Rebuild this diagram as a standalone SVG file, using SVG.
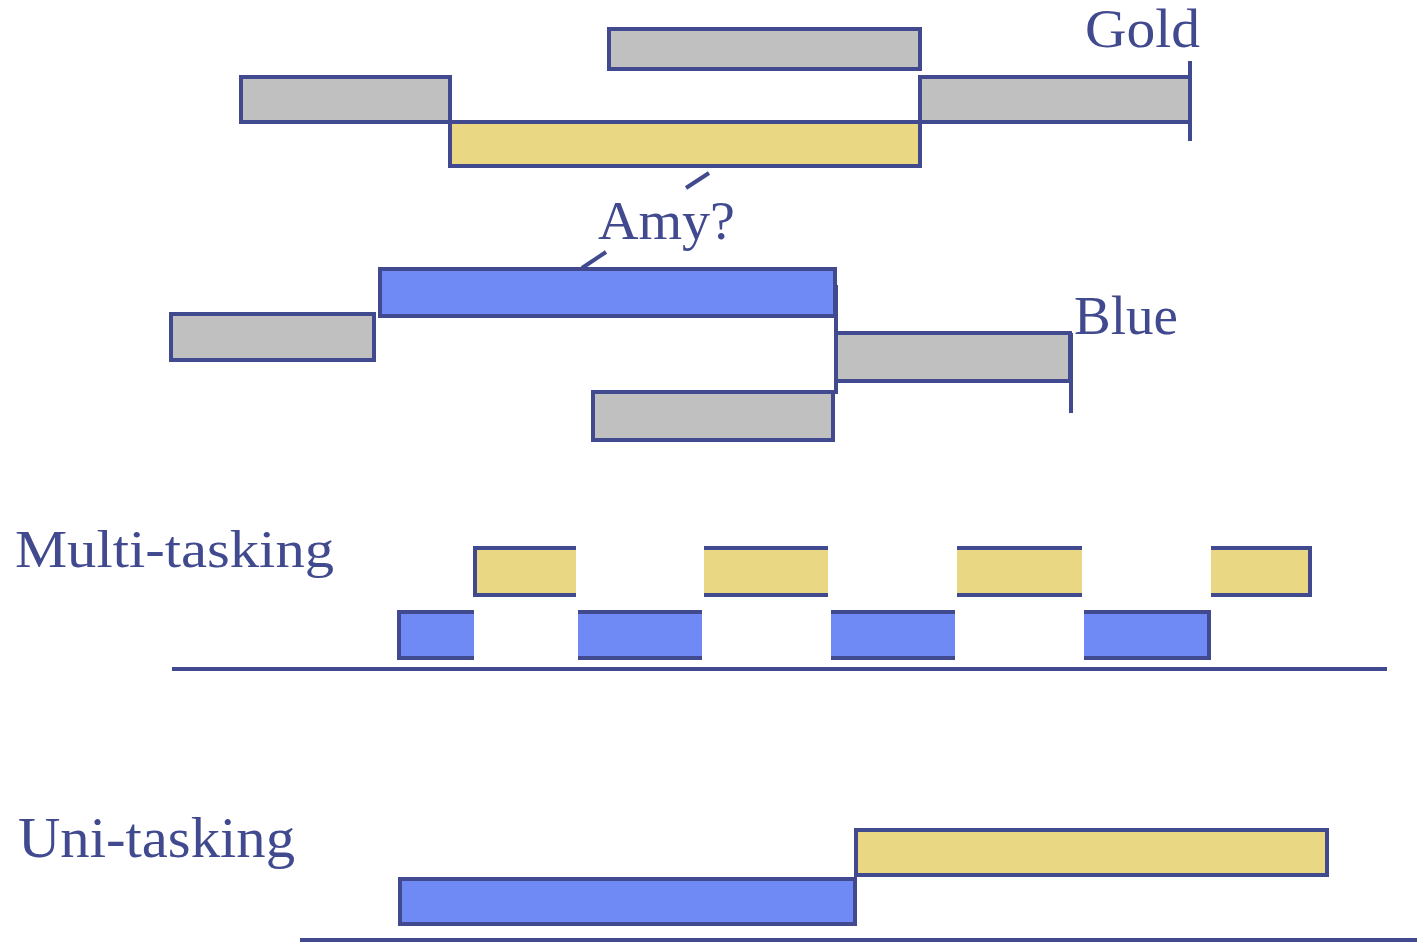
<svg xmlns="http://www.w3.org/2000/svg" width="1423" height="943" viewBox="0 0 1423 943">
<style>
.s{stroke:#414a8e;stroke-width:4;fill:none}
.y{fill:#ead784}
.b{fill:#6f8af5}
.t{font-family:"Liberation Serif",serif;fill:#414a8e}
</style>
<rect width="1423" height="943" fill="#fff"/>
<g id="gold-top"><rect class="s" x="609" y="29" width="311" height="40" style="fill:#c0c0c0"/></g>
<g id="gold-left"><rect class="s" x="241" y="77" width="209" height="45" style="fill:#c0c0c0"/></g>
<g id="gold-main"><rect class="s" x="450" y="122" width="470" height="44" style="fill:#ead784"/></g>
<g id="gold-right"><rect class="s" x="920" y="77" width="270" height="45" style="fill:#c0c0c0"/></g>
<g id="gold-label"><text class="t" x="1085" y="47" font-size="55" textLength="115" lengthAdjust="spacingAndGlyphs">Gold</text></g>

<g id="blue-main"><rect class="s" x="380" y="269" width="455" height="47" style="fill:#6f8af5"/></g>
<g id="blue-left"><rect class="s" x="171" y="314" width="203" height="46" style="fill:#c0c0c0"/></g>
<g id="blue-right"><rect class="s" x="836" y="333" width="234" height="48" style="fill:#c0c0c0"/></g>
<g id="blue-bottom"><rect class="s" x="593" y="392" width="240" height="48" style="fill:#c0c0c0"/></g>
<g id="blue-label"><text class="t" x="1074" y="334" font-size="54" textLength="104" lengthAdjust="spacingAndGlyphs">Blue</text></g>
<g id="amy-label"><text class="t" x="598" y="239" font-size="55" textLength="137" lengthAdjust="spacingAndGlyphs">Amy?</text></g>

<g id="connectors">
<line class="s" x1="709" y1="173" x2="686" y2="188"/>
<line class="s" x1="606" y1="252" x2="582" y2="268"/>
<line class="s" x1="1190" y1="61" x2="1190" y2="141"/>
<line class="s" x1="836" y1="285" x2="836" y2="394"/>
<line class="s" x1="1071" y1="333" x2="1071" y2="413"/>
</g>

<g id="multi-label"><text class="t" x="15" y="567" font-size="52" textLength="319" lengthAdjust="spacingAndGlyphs">Multi-tasking</text></g>
<g id="multi-y1"><rect class="y" x="475" y="548" width="101" height="47"/><path class="s" d="M576 548H475V595H576"/></g>
<g id="multi-y2"><rect class="y" x="704" y="548" width="124" height="47"/><path class="s" d="M704 548H828M704 595H828"/></g>
<g id="multi-y3"><rect class="y" x="957" y="548" width="125" height="47"/><path class="s" d="M957 548H1082M957 595H1082"/></g>
<g id="multi-y4"><rect class="y" x="1211" y="548" width="100" height="47"/><path class="s" d="M1211 548H1310V595H1211"/></g>
<g id="multi-b1"><rect class="b" x="399" y="612" width="75" height="46"/><path class="s" d="M474 612H399V658H474"/></g>
<g id="multi-b2"><rect class="b" x="578" y="612" width="124" height="46"/><path class="s" d="M578 612H702M578 658H702"/></g>
<g id="multi-b3"><rect class="b" x="831" y="612" width="124" height="46"/><path class="s" d="M831 612H955M831 658H955"/></g>
<g id="multi-b4"><rect class="b" x="1084" y="612" width="125" height="46"/><path class="s" d="M1084 612H1209V658H1084"/></g>
<g id="multi-axis"><line class="s" x1="172" y1="669" x2="1387" y2="669"/></g>

<g id="uni-label"><text class="t" x="18" y="857" font-size="56" textLength="277" lengthAdjust="spacingAndGlyphs">Uni-tasking</text></g>
<g id="uni-yellow"><rect class="s" x="856" y="830" width="471" height="45" style="fill:#ead784"/></g>
<g id="uni-blue"><rect class="s" x="400" y="879" width="455" height="45" style="fill:#6f8af5"/></g>
<g id="uni-axis"><line class="s" x1="300" y1="940" x2="1417" y2="940"/></g>
</svg>
